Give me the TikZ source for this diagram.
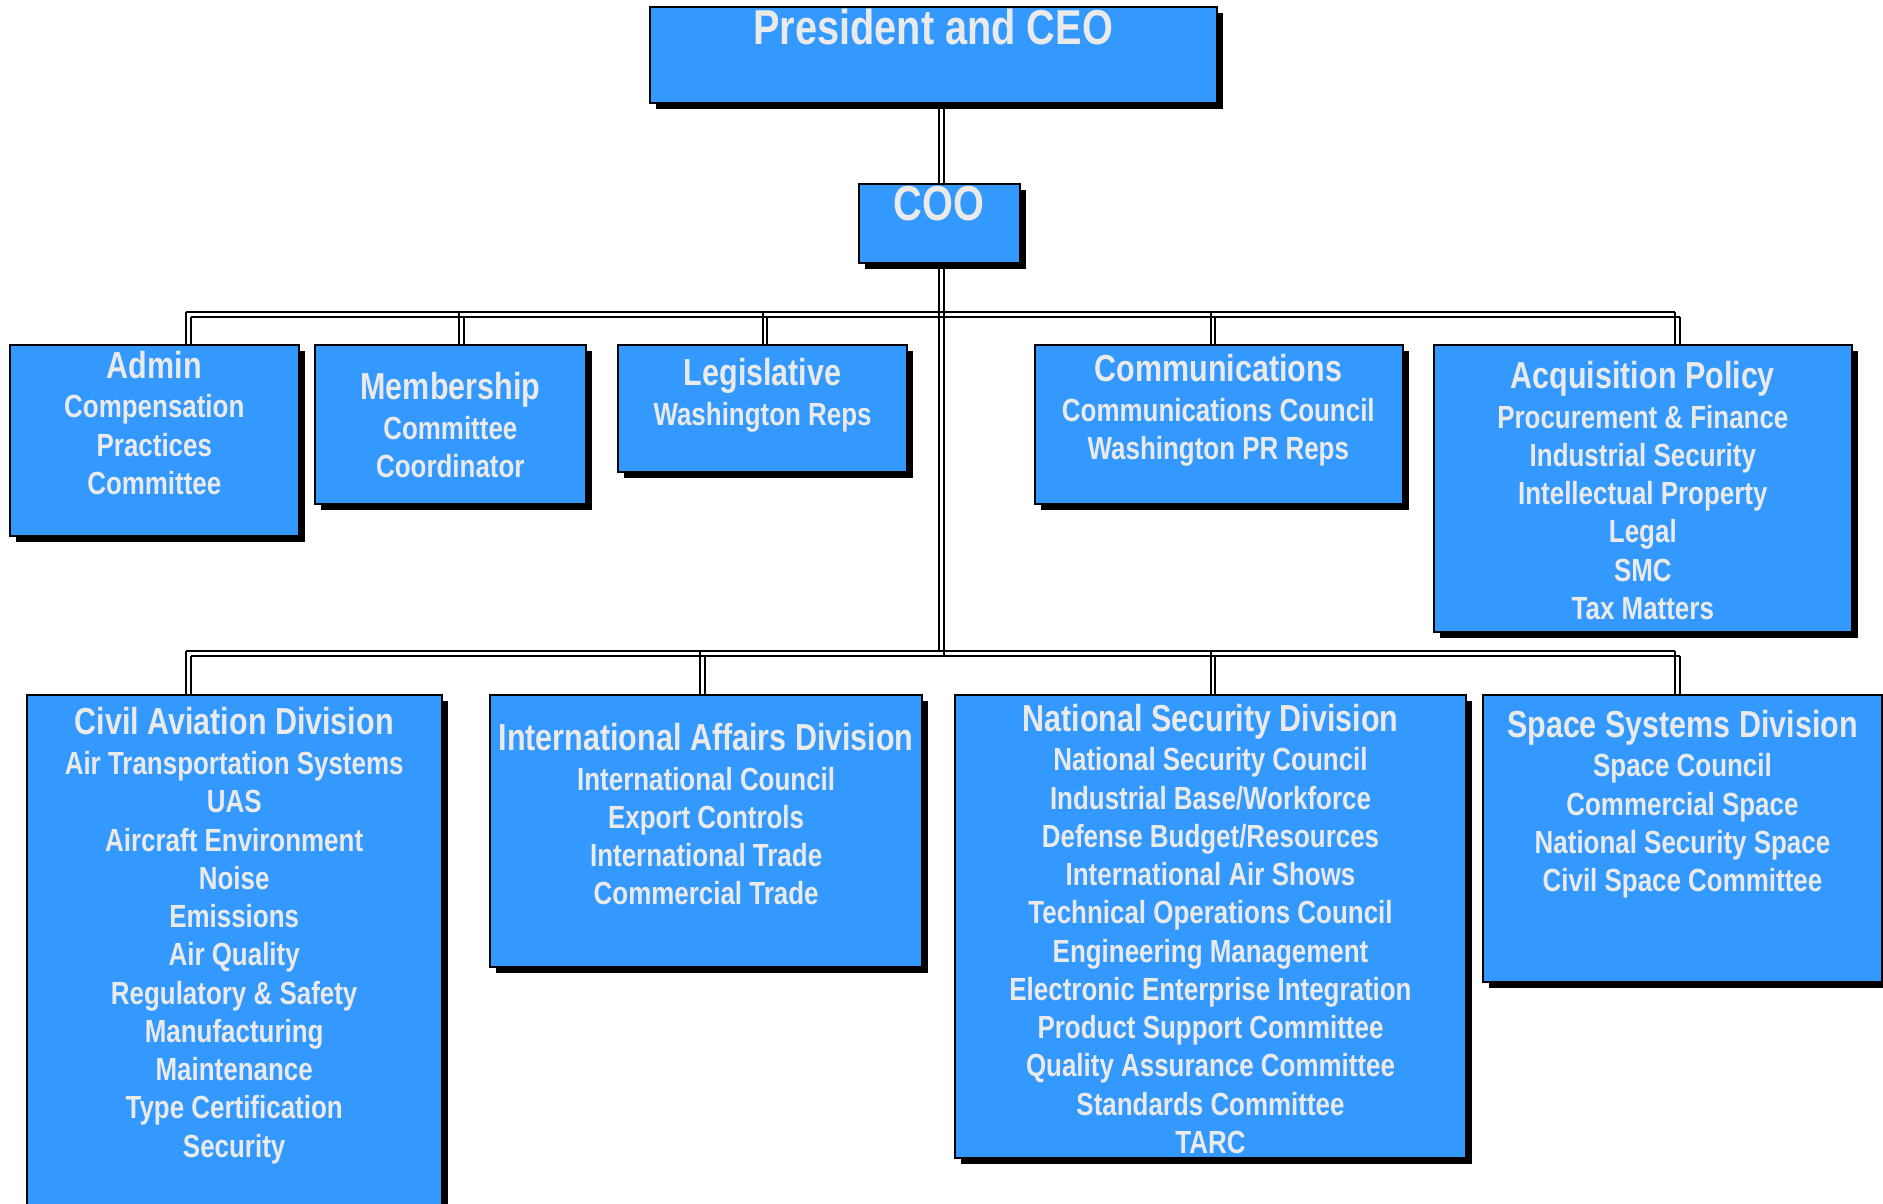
\documentclass[tikz,border=0pt]{standalone}
\usepackage{fontspec}
\setmainfont{Liberation Sans}[FakeStretch=0.81]
\usetikzlibrary{shadows}
\definecolor{boxblue}{RGB}{51,153,255}
\definecolor{txtgray}{RGB}{234,234,234}
\pgfdeclarelayer{bg}
\pgfsetlayers{bg,main}
\tikzset{
  orgbox/.style={draw=black, line width=1pt, fill=boxblue, inner sep=0pt, outer sep=0pt,
    general shadow={fill=black, shadow xshift=3pt, shadow yshift=-3pt}},
  conn/.style={draw=black, line width=1pt},
  connshadow/.style={draw=black, line width=1pt, transform canvas={xshift=2.4pt, yshift=-2.4pt}},
  ttl/.style={anchor=base, inner sep=0pt, text=txtgray, font=\fontsize{24.5}{28}\selectfont\bfseries},
  hdr/.style={anchor=base, inner sep=0pt, text=txtgray, font=\fontsize{18.8}{22}\selectfont\bfseries},
  subt/.style={anchor=base, inner sep=0pt, text=txtgray, font=\fontsize{16}{19}\selectfont\bfseries}
}
\newcommand\mkbox[5]{\node[orgbox, minimum width={(#4-#2)*0.6pt}, minimum height={(#5-#3)*0.6pt}] (#1) at ({(#2+#4)/2},{(#3+#5)/2}) {};}
\newcommand\mktext[5]{\node[hdr] (#1-h) at (#2,#3) {#4};
  \foreach \itm [count=\i] in {#5} {\node[subt] (#1-\i) at ({#2},{#3+33+31.85*(\i-1)}) {\itm};}}
\begin{document}
\begin{tikzpicture}[x=0.6pt, y=-0.6pt]
\useasboundingbox (0,0) rectangle (1568,1001.8);
\clip (0,0) rectangle (1568,1001.8);
% boxes
\mkbox{pres}{541}{6}{1013}{86}
\mkbox{coo}{715}{153}{849}{219}
\mkbox{admin}{8}{287}{249}{446}
\mkbox{memb}{262}{287}{488}{420}
\mkbox{legis}{515}{287}{755}{393}
\mkbox{comm}{861.5}{287}{1168}{420}
\mkbox{acq}{1194}{287}{1542}{526}
\mkbox{civil}{22.5}{579}{368}{1015}
\mkbox{intl}{408}{579}{768}{805}
\mkbox{natsec}{795}{579}{1221}{964.5}
\mkbox{space}{1235}{579}{1567}{818}
% bus junctions
\coordinate (ub-admin) at (155,259.6);
\coordinate (ub-memb) at (382,259.6);
\coordinate (ub-legis) at (635,259.6);
\coordinate (ub-comm) at (1008,259.6);
\coordinate (ub-acq) at (1395,259.6);
\coordinate (lb-civil) at (155,542);
\coordinate (lb-intl) at (583,542);
\coordinate (lb-natsec) at (1008,542);
\coordinate (lb-space) at (1395,542);
% connectors
\begin{pgfonlayer}{bg}
\foreach \st in {connshadow,conn} {
  \draw[\st] (coo.north) -- (coo.north |- pres.south);
  \draw[\st] (coo.south) -- (coo.south |- lb-civil);
  \draw[\st] (ub-admin) -- (ub-acq);
  \draw[\st] (lb-civil) -- (lb-space);
  \foreach \b in {admin,memb,legis,comm,acq} {\draw[\st] (ub-\b) -- (ub-\b |- \b.north);}
  \foreach \b in {civil,intl,natsec,space} {\draw[\st] (lb-\b) -- (lb-\b |- \b.north);}
}
\end{pgfonlayer}
% texts
\node[ttl] (pres-t) at (777,37) {President and CEO};
\node[ttl] (coo-t) at (782,183.3) {COO};
\mktext{admin}{128.5}{315}{Admin}{Compensation,Practices,Committee}
\mktext{memb}{375}{333}{Membership}{Committee,Coordinator}
\mktext{legis}{635}{321}{Legislative}{Washington Reps}
\mktext{comm}{1014.5}{318}{Communications}{Communications Council,Washington PR Reps}
\mktext{acq}{1368}{323.5}{Acquisition Policy}{Procurement \& Finance,Industrial Security,Intellectual Property,Legal,SMC,Tax Matters}
\mktext{civil}{195}{612}{Civil Aviation Division}{Air Transportation Systems,UAS,Aircraft Environment,Noise,Emissions,Air Quality,Regulatory \& Safety,Manufacturing,Maintenance,Type Certification,Security}
\mktext{intl}{588}{625}{International Affairs Division}{International Council,Export Controls,International Trade,Commercial Trade}
\mktext{natsec}{1008}{609}{National Security Division}{National Security Council,Industrial Base/Workforce,Defense Budget/Resources,International Air Shows,Technical Operations Council,Engineering Management,Electronic Enterprise Integration,Product Support Committee,Quality Assurance Committee,Standards Committee,TARC}
\mktext{space}{1401}{614}{Space Systems Division}{Space Council,Commercial Space,National Security Space,Civil Space Committee}
\end{tikzpicture}
\end{document}
